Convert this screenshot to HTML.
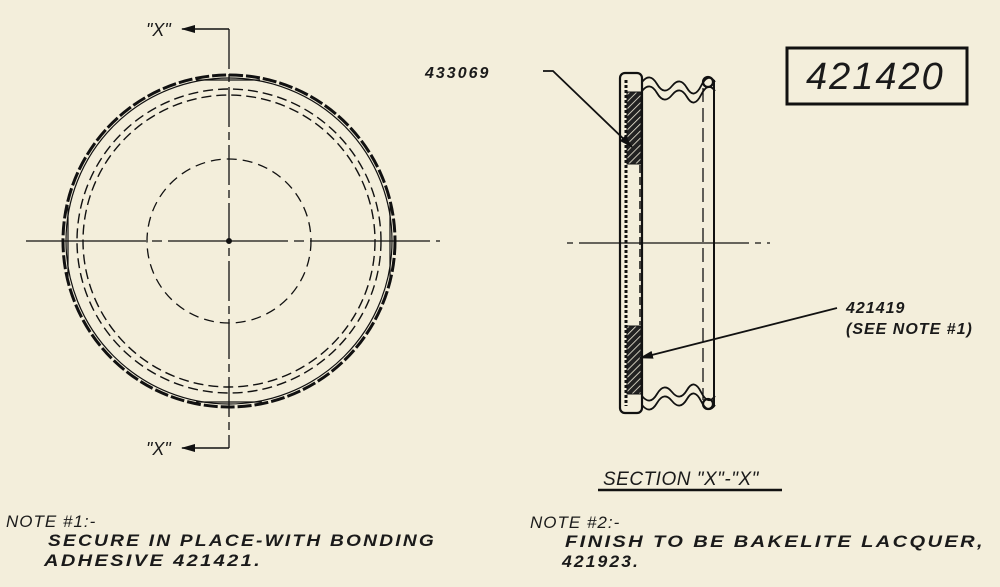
<!DOCTYPE html>
<html><head><meta charset="utf-8"><style>
html,body{margin:0;padding:0;background:#f3eedb;}
svg{display:block}
text{font-family:"Liberation Sans",sans-serif;font-style:italic;fill:#1a1a1a}
</style></head><body>
<svg width="1000" height="587" viewBox="0 0 1000 587" xmlns="http://www.w3.org/2000/svg">
<defs>
<pattern id="h" width="5" height="5" patternUnits="userSpaceOnUse" patternTransform="rotate(45)">
<rect width="5" height="5" fill="#222"/><line x1="0" y1="0" x2="0" y2="5" stroke="#f3eedb" stroke-width="1.6"/>
</pattern>
<marker id="ar" markerWidth="14" markerHeight="8" refX="13" refY="4" orient="auto" markerUnits="userSpaceOnUse"><path d="M0,0 L14,4 L0,8z" fill="#111"/></marker>
</defs>
<g stroke="#111" fill="none">
<circle cx="229" cy="241" r="166" stroke-width="3" stroke-dasharray="14 3"/>
<circle cx="229" cy="241" r="163" stroke-width="1.2"/>
<circle cx="229" cy="241" r="152" stroke-width="1.4" stroke-dasharray="10 5"/>
<circle cx="229" cy="241" r="146" stroke-width="1.4" stroke-dasharray="10 5"/>
<circle cx="229" cy="241" r="82" stroke-width="1.3" stroke-dasharray="10 6"/>
<path d="M196,80 L260,80 M196,402 L262,402 M68,205 L68,277 M390,205 L390,277" stroke-width="1.2"/>
<line x1="26" y1="241" x2="440" y2="241" stroke-width="1.3" stroke-dasharray="120 6 10 6"/>
<line x1="229" y1="29" x2="229" y2="448" stroke-width="1.3" stroke-dasharray="40 5 8 5"/>
<line x1="229" y1="29" x2="182" y2="29" stroke-width="1.5" marker-end="url(#ar)"/>
<line x1="229" y1="448" x2="182" y2="448" stroke-width="1.5" marker-end="url(#ar)"/>
<circle cx="229" cy="241" r="2.5" fill="#111"/>
<rect x="620" y="73" width="22" height="340" rx="5" stroke-width="2.2"/>
<line x1="626" y1="80" x2="626" y2="406" stroke-width="3" stroke-dasharray="3 2"/>
<rect x="627" y="92" width="14" height="72" fill="url(#h)" stroke-width="1"/>
<rect x="627" y="326" width="14" height="68" fill="url(#h)" stroke-width="1"/>
<line x1="640" y1="165" x2="640" y2="325" stroke-width="1.5" stroke-dasharray="8 4"/>
<path d="M642,82 q8,-10 15,2 t15,2 t15,2 t14,-2 t14,-4 M642,91 q8,-10 15,2 t15,2 t15,2 t14,-2 t14,-4" stroke-width="1.8"/>
<path d="M642,396 q8,10 15,-2 t15,-2 t15,-2 t14,2 t14,4 M642,405 q8,10 15,-2 t15,-2 t15,-2 t14,2 t14,4" stroke-width="1.8"/>
<circle cx="708" cy="82" r="5" stroke-width="2.2"/>
<circle cx="708" cy="404" r="5" stroke-width="2.2"/>
<line x1="714" y1="80" x2="714" y2="406" stroke-width="2"/>
<line x1="703" y1="88" x2="703" y2="400" stroke-width="1.3" stroke-dasharray="14 6"/>
<line x1="567" y1="243" x2="770" y2="243" stroke-width="1.3" stroke-dasharray="6 6 170 6 6 6"/>
<polyline points="543,71 553,71 632,147" stroke-width="1.8" marker-end="url(#ar)"/>
<line x1="837" y1="308" x2="640" y2="358" stroke-width="1.8" marker-end="url(#ar)"/>
<rect x="787" y="48" width="180" height="56" stroke-width="3"/>
<line x1="598" y1="490" x2="782" y2="490" stroke-width="2.5"/>
</g>
<text x="146" y="36" font-size="18">"X"</text>
<text x="146" y="455" font-size="18">"X"</text>
<text x="425" y="78" font-size="16" font-weight="bold" letter-spacing="2">433069</text>
<text x="806" y="89" font-size="38" letter-spacing="2">421420</text>
<text x="846" y="313" font-size="16" font-weight="bold" letter-spacing="1">421419</text>
<text x="846" y="334" font-size="16" font-weight="bold" letter-spacing="1">(SEE NOTE #1)</text>
<text x="603" y="485" font-size="19" letter-spacing="0.5">SECTION "X"-"X"</text>
<text x="6" y="527" font-size="17" letter-spacing="1">NOTE #1:-</text>
<text x="48" y="546" font-size="17" font-weight="bold" letter-spacing="2" textLength="388" lengthAdjust="spacingAndGlyphs">SECURE IN PLACE-WITH BONDING</text>
<text x="44" y="566" font-size="17" font-weight="bold" letter-spacing="2" textLength="218" lengthAdjust="spacingAndGlyphs">ADHESIVE 421421.</text>
<text x="530" y="528" font-size="17" letter-spacing="1">NOTE #2:-</text>
<text x="565" y="547" font-size="17" font-weight="bold" letter-spacing="2" textLength="420" lengthAdjust="spacingAndGlyphs">FINISH  TO BE BAKELITE LACQUER,</text>
<text x="562" y="567" font-size="17" font-weight="bold" letter-spacing="2" textLength="78" lengthAdjust="spacingAndGlyphs">421923.</text>
</svg>
</body></html>
